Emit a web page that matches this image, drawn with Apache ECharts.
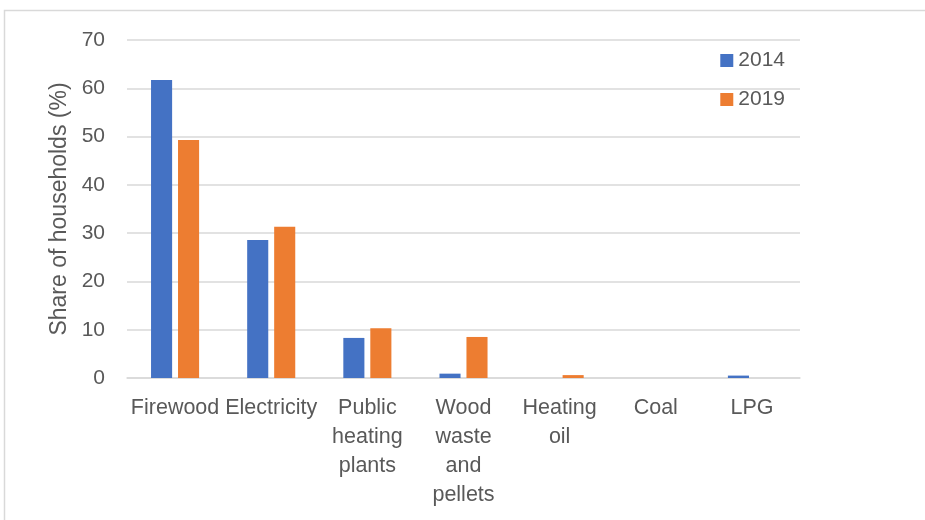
<!DOCTYPE html>
<html>
<head>
<meta charset="utf-8">
<script src="https://cdn.jsdelivr.net/npm/echarts@6/dist/echarts.min.js"></script>
<style>html,body{margin:0;padding:0;background:#fff;}#c{width:925px;height:520px;}</style>
</head>
<body>
<div id="c"></div>
<script>
const categories = ['Firewood', 'Electricity', 'Public\nheating\nplants', 'Wood\nwaste\nand\npellets', 'Heating\noil', 'Coal', 'LPG'];
const values2014 = [61.7, 28.6, 8.3, 0.9, 0, 0, 0.5];
const values2019 = [49.3, 31.3, 10.3, 8.5, 0.6, 0, 0];
const seriesNames = ['2014', '2019'];
const yTicks = {min: 0, max: 70, interval: 10};

const font = 'Liberation Sans, Arial, sans-serif';
const chart = echarts.init(document.getElementById('c'));
chart.setOption({
  animation: false,
  graphic: [{
    type: 'polyline',
    shape: {points: [[4.5, 525], [4.5, 10.5], [930, 10.5]]},
    style: {stroke: '#d9d9d9', lineWidth: 1.5, fill: null}
  }],
  grid: {left: 127, right: 125, top: 40, bottom: 142},
  legend: {
    orient: 'vertical', right: 135, top: 45,
    itemWidth: 13, itemHeight: 13, itemGap: 18,
    icon: 'rect',
    textStyle: {fontFamily: font, fontSize: 21, color: '#595959', padding: [0, 0, 0, 0]},
    data: seriesNames
  },
  xAxis: {
    type: 'category', data: categories,
    axisLine: {lineStyle: {color: '#d9d9d9', width: 1.5}},
    axisTick: {show: false},
    axisLabel: {fontFamily: font, fontSize: 21.5, color: '#595959', lineHeight: 29, margin: 16, interval: 0}
  },
  yAxis: {
    type: 'value', min: yTicks.min, max: yTicks.max, interval: yTicks.interval,
    name: 'Share of households (%)', nameLocation: 'middle', nameGap: 54,
    nameTextStyle: {fontFamily: font, fontSize: 23, color: '#595959'},
    axisLine: {show: false}, axisTick: {show: false},
    splitLine: {lineStyle: {color: '#d9d9d9', width: 1.5}},
    axisLabel: {fontFamily: font, fontSize: 21, color: '#595959', margin: 22}
  },
  series: [
    {name: seriesNames[0], type: 'bar', data: values2014, itemStyle: {color: '#4472C4'}, barGap: '28%', barCategoryGap: '50%'},
    {name: seriesNames[1], type: 'bar', data: values2019, itemStyle: {color: '#ED7D31'}}
  ]
});
</script>
</body>
</html>
